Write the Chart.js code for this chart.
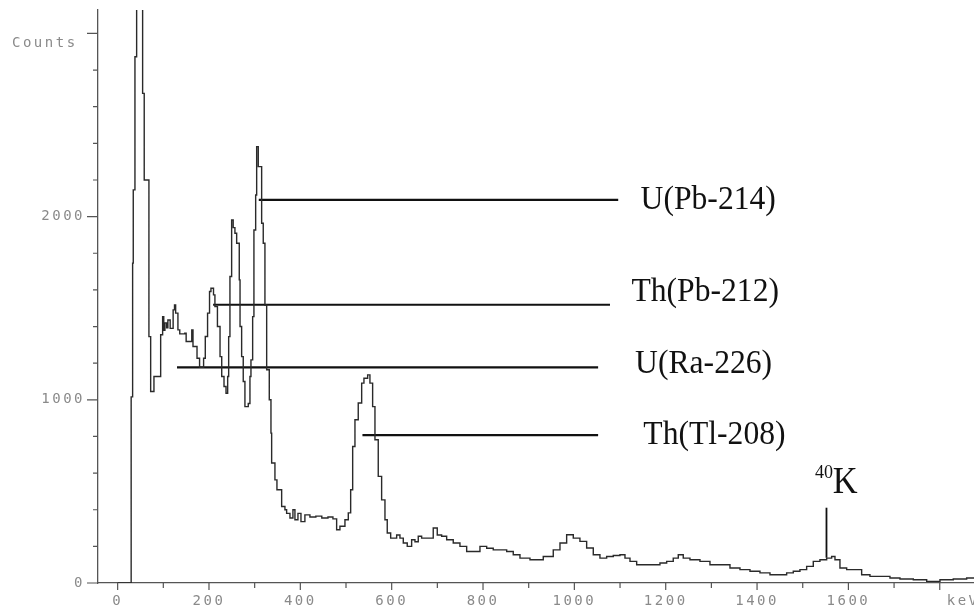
<!DOCTYPE html>
<html>
<head>
<meta charset="utf-8">
<script src="https://cdn.jsdelivr.net/npm/chart.js@4.4.1/dist/chart.umd.min.js"></script>
<style>
  html, body { margin: 0; padding: 0; background: #fff; }
  #wrap { width: 974px; height: 609px; position: relative; }
</style>
</head>
<body>
<div id="wrap"><canvas id="spec"></canvas></div>
<script>
// gamma spectrum: left edge of each step (keV) and its counts
const ENERGY = [
  0, 29.6, 32.8, 34.2, 37.9, 41.6, 54.7, 58.2, 68.5, 72.3, 79.5, 94.2, 98.5, 101, 103.5, 107.3, 110, 115,
  121.5, 124.5, 127, 132, 136, 147, 150, 162.3, 165, 173.8, 179.4, 188.2, 191.9, 196.9, 201.2, 204.3,
  209.9, 213, 218.5, 224.2, 227.9, 232.9, 237.3, 240.9, 243.1, 245.9, 249.6, 253, 256.8, 260.6, 266.3,
  268, 271.5, 275, 278.7, 286, 289.7, 291.9, 295.6, 298.4, 302.2, 304.4, 307.9, 315.3, 318.8, 322.5,
  326.3, 332, 335.7, 337.2, 344.4, 348.8, 359.1, 366.3, 370, 377.3, 383.8, 388.2, 394.8, 401.4, 410,
  421, 434, 447, 460.5, 471.4, 479.5, 486.7, 497.7, 505, 510.2, 514.6, 519.6, 526.8, 534.3, 539.3,
  547.4, 552.4, 558.3, 563.4, 570.6, 578, 585.3, 590.3, 597.8, 610.9, 618.1, 625.4, 634.1, 643.7, 651,
  658.2, 665.6, 680.1, 691, 699.8, 709.4, 720.4, 734.8, 749.5, 764.2, 778.6, 793.3, 808, 822.4, 837.1,
  851.8, 866.2, 880.9, 902.8, 917.4, 931.9, 953.8, 968.5, 983.1, 997.6, 1012.2, 1026.9, 1041.4, 1056,
  1070.7, 1085.2, 1099.8, 1110.8, 1121.8, 1136.4, 1150.9, 1165.5, 1187.4, 1202.1, 1216.5, 1227.5,
  1238.4, 1253.1, 1275, 1296.9, 1318.8, 1340.7, 1362.6, 1384.5, 1406.4, 1428.3, 1450.2, 1464.8, 1479.3,
  1493.9, 1508.6, 1523.1, 1537.7, 1552.4, 1563.3, 1570.6, 1581.5, 1596.2, 1618.1, 1629, 1647.2, 1669.1,
  1691, 1712.9, 1742.1, 1771.4, 1800.5, 1829.6, 1858.9, 1875
];
const COUNTS = [
  0, 1016, 1746, 2146, 2873, 3400, 2673, 2200, 1345, 1045, 1127, 1355, 1454, 1380, 1420, 1393, 1436, 1390,
  1491, 1518, 1473, 1382, 1360, 1364, 1318, 1382, 1291, 1227, 1178, 1227, 1346, 1473, 1591, 1609,
  1573, 1509, 1400, 1236, 1127, 1073, 1036, 1127, 1345, 1673, 1982, 1940, 1909, 1855, 1655,
  1400, 1236, 1100, 963, 980, 1127, 1218, 1454, 1927, 2118, 2382, 2273, 1964, 1855, 1518,
  1164, 1000, 818, 655, 563, 509, 418, 400, 380, 355, 400, 345, 380, 335, 372,
  360, 365, 355, 360, 350, 291, 310, 345, 383, 509, 745, 891, 983, 1091, 1118,
  1136, 1091, 963, 782, 582, 454, 345, 273, 245, 262, 245, 218, 200, 236, 225,
  255, 245, 245, 300, 262, 255, 236, 218, 200, 172, 172, 200, 190, 181, 181,
  172, 154, 136, 127, 127, 145, 181, 218, 263, 245, 227, 191, 154, 136,
  145, 150, 154, 136, 118, 100, 100, 100, 109, 118, 136, 154,
  136, 127, 118, 100, 100, 82, 73, 64, 55, 45, 45, 55, 64,
  73, 91, 118, 127, 136, 145, 127, 82, 73, 73, 45, 36, 36,
  27, 22, 18, 9, 18, 22, 27, 30
];

// peak markers (horizontal lines + names)
const MARK_NAMES = ['U(Pb-214)', 'Th(Pb-212)', 'U(Ra-226)', 'Th(Tl-208)'];
const MARK_LEVEL = [2091, 1519, 1177, 807];
const MARK_FROM = [309, 209, 130, 536];
const MARK_TO = [1096, 1078, 1052, 1052];
const MARK_TEXT_E = [1145, 1125, 1133, 1151];
const MARK_TEXT_C = [2091, 1589, 1196, 805];

// 40K marker
const K40_E = 1552;
const K40_RANGE = [138, 411];

// axes
const X_TICKS = [0, 100, 200, 300, 400, 500, 600, 700, 800, 900, 1000, 1100, 1200, 1300, 1400, 1500, 1600, 1700, 1800];
const X_LABELS = ['0', '', '200', '', '400', '', '600', '', '800', '', '1000', '', '1200', '', '1400', '', '1600', '', ''];
const Y_TICKS = [0, 200, 400, 600, 800, 1000, 1200, 1400, 1600, 1800, 2000, 2200, 2400, 2600, 2800, 3000];
const Y_LABELS = ['0', '', '', '', '', '1000', '', '', '', '', '2000', '', '', '', '', ''];

const AXIS_GRAY = '#555';
const LABEL_GRAY = '#8a8a8a';
const TICK_FONT = { family: 'DejaVu Sans Mono', size: 14 };

const spectrum = ENERGY.map((e, i) => ({ x: e, y: COUNTS[i] }));

const markerSets = MARK_NAMES.map((name, i) => ({
  label: name,
  data: [{ x: MARK_FROM[i], y: MARK_LEVEL[i] }, { x: MARK_TO[i], y: MARK_LEVEL[i] }],
  borderColor: '#111',
  borderWidth: 2.2,
  pointRadius: 0
}));

// wide, printer-like tick text
const spacing = {
  id: 'spacing',
  beforeDraw(chart) { chart.ctx.letterSpacing = '2.5px'; }
};

// tick marks, long for labelled values
const tickMarks = {
  id: 'tickMarks',
  afterDraw(chart) {
    const { ctx, chartArea } = chart;
    const xs = chart.scales.x, ys = chart.scales.y;
    ctx.save();
    ctx.strokeStyle = AXIS_GRAY;
    ctx.lineWidth = 1.2;
    ctx.beginPath();
    Y_TICKS.forEach(v => {
      const y = ys.getPixelForValue(v);
      const len = v % 1000 === 0 ? 11 : 5;
      ctx.moveTo(chartArea.left - len, y);
      ctx.lineTo(chartArea.left, y);
    });
    X_TICKS.forEach(v => {
      const x = xs.getPixelForValue(v);
      const len = v % 200 === 0 ? 7 : 5;
      ctx.moveTo(x, chartArea.bottom);
      ctx.lineTo(x, chartArea.bottom + len);
    });
    ctx.stroke();

    // axis captions
    ctx.fillStyle = LABEL_GRAY;
    ctx.font = '14px "DejaVu Sans Mono"';
    ctx.letterSpacing = '2.5px';
    ctx.textBaseline = 'middle';
    ctx.textAlign = 'left';
    ctx.fillText('Counts', chartArea.left - 86, ys.getPixelForValue(2948));
    ctx.fillText('keV', xs.getPixelForValue(1800) + 7, chartArea.bottom + 18);
    ctx.restore();
  }
};

// isotope names
const markerText = {
  id: 'markerText',
  afterDatasetsDraw(chart) {
    const { ctx } = chart;
    const xs = chart.scales.x, ys = chart.scales.y;
    ctx.save();
    ctx.letterSpacing = '0px';
    ctx.fillStyle = '#111';
    ctx.textAlign = 'left';
    MARK_NAMES.forEach((name, i) => {
      ctx.save();
      ctx.translate(xs.getPixelForValue(MARK_TEXT_E[i]), ys.getPixelForValue(MARK_TEXT_C[i]));
      ctx.scale(0.93, 1);
      ctx.font = '34px "Liberation Serif"';
      ctx.textBaseline = 'middle';
      ctx.fillText(name, 0, 0);
      ctx.restore();
    });

    // 40K line and label
    const kx = xs.getPixelForValue(K40_E);
    ctx.strokeStyle = '#111';
    ctx.lineWidth = 1.8;
    ctx.beginPath();
    ctx.moveTo(kx, ys.getPixelForValue(K40_RANGE[0]));
    ctx.lineTo(kx, ys.getPixelForValue(K40_RANGE[1]));
    ctx.stroke();
    ctx.textBaseline = 'alphabetic';
    ctx.font = '18px "Liberation Serif"';
    ctx.fillText('40', xs.getPixelForValue(1527), ys.getPixelForValue(572));
    ctx.save();
    ctx.translate(xs.getPixelForValue(1566), ys.getPixelForValue(492));
    ctx.scale(0.93, 1);
    ctx.font = '37px "Liberation Serif"';
    ctx.fillText('K', 0, 0);
    ctx.restore();
    ctx.restore();
  }
};

new Chart(document.getElementById('spec'), {
  type: 'line',
  data: {
    datasets: [
      {
        label: 'spectrum',
        data: spectrum,
        borderColor: '#2a2a2a',
        borderWidth: 1.4,
        pointRadius: 0,
        stepped: true
      },
      ...markerSets
    ]
  },
  options: {
    responsive: true,
    maintainAspectRatio: false,
    animation: false,
    devicePixelRatio: 1,
    layout: { padding: 0 },
    plugins: { legend: { display: false }, tooltip: { enabled: false } },
    scales: {
      x: {
        type: 'linear',
        min: -43,
        max: 1875,
        afterBuildTicks: (s) => { s.ticks = X_TICKS.map(v => ({ value: v })); },
        afterFit: (s) => { s.height = 26; s.paddingLeft = 0; s.paddingRight = 0; },
        border: { color: AXIS_GRAY, width: 1.3 },
        grid: { drawOnChartArea: false, drawTicks: false },
        ticks: {
          color: LABEL_GRAY,
          font: TICK_FONT,
          padding: 10,
          maxRotation: 0,
          autoSkip: false,
          callback: (v) => X_LABELS[X_TICKS.indexOf(v)]
        }
      },
      y: {
        type: 'linear',
        min: 0,
        max: 3128,
        afterBuildTicks: (s) => { s.ticks = Y_TICKS.map(v => ({ value: v })); },
        afterFit: (s) => { s.width = 98; s.paddingTop = 10; s.paddingBottom = 0; },
        border: { color: AXIS_GRAY, width: 1.3 },
        grid: { drawOnChartArea: false, drawTicks: false },
        ticks: {
          color: LABEL_GRAY,
          font: TICK_FONT,
          padding: 13,
          autoSkip: false,
          callback: (v) => Y_LABELS[Y_TICKS.indexOf(v)]
        }
      }
    }
  },
  plugins: [spacing, tickMarks, markerText]
});
</script>
</body>
</html>
